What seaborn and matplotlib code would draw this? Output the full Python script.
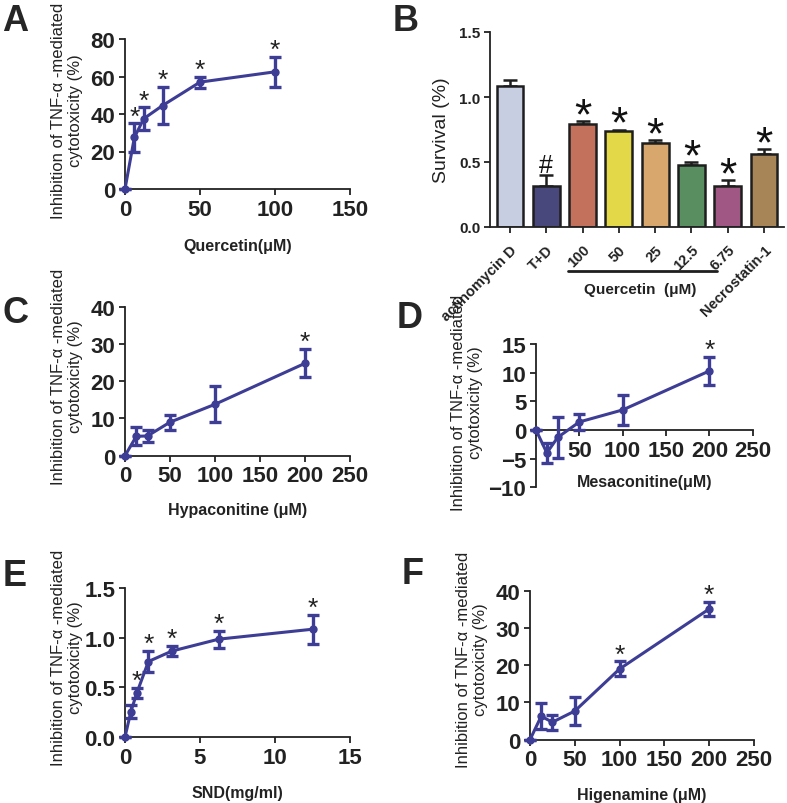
import numpy as np
import pandas as pd
import matplotlib
matplotlib.use("Agg")
import matplotlib.pyplot as plt
import seaborn as sns

sns.set_style("ticks")
plt.rcParams['font.family'] = ['Liberation Sans', 'DejaVu Sans']

# panel A - quercetin
a_x = [0, 6.25, 12.5, 25, 50, 100]
a_y = [0, 27.5, 37.5, 44.5, 57, 62.5]
a_err = [0, 7.5, 6, 10, 3, 8]
a_star = [6.25, 12.5, 25, 50, 100]

# panel B - survival bars
b_labels = ["actinomycin D", "T+D", "100", "50", "25", "12.5", "6.75", "Necrostatin-1"]
b_vals = [1.085, 0.315, 0.795, 0.735, 0.645, 0.474, 0.315, 0.558]
b_err = [0.045, 0.085, 0.02, 0.015, 0.025, 0.025, 0.045, 0.04]
b_marks = ["", "#", "*", "*", "*", "*", "*", "*"]
b_colors = ["#c3cce6", "#3f3f86", "#d4654b", "#fdf02e", "#e9a95b", "#4f975a", "#ad4b87", "#b5874a"]

# panel C - hypaconitine
c_x = [0, 12.5, 25, 50, 100, 200]
c_y = [0, 5.2, 5.3, 9, 13.8, 24.8]
c_err = [0, 2.4, 1.5, 2, 4.8, 3.8]
c_star = [200]

# panel D - mesaconitine
d_x = [0, 12.5, 25, 50, 100, 200]
d_y = [0, -4, -1.3, 1.4, 3.5, 10.3]
d_err = [0, 1.8, 3.6, 1.4, 2.6, 2.5]
d_star = [200]

# panel E - SND
e_x = [0, 0.39, 0.78, 1.56, 3.125, 6.25, 12.5]
e_y = [0, 0.255, 0.44, 0.76, 0.865, 0.985, 1.085]
e_err = [0, 0.065, 0.05, 0.11, 0.05, 0.085, 0.145]
e_star = [0.78, 1.56, 3.125, 6.25, 12.5]

# panel F - higenamine
f_x = [0, 12.5, 25, 50, 100, 200]
f_y = [0, 6.3, 4.7, 7.7, 19, 35.1]
f_err = [0, 3.5, 2, 3.7, 2, 1.8]
f_star = [100, 200]

W, H = 787, 804
LINE = "#3d3d96"
YLAB = "Inhibition of TNF-\u03b1 -mediated\ncytotoxicity (%)"
TICK = 16

fig = plt.figure(figsize=(W / 100, H / 100), dpi=100)


def box(x0, y0, x1, y1):
    # pixel box (top-left origin) -> figure fraction
    return [x0 / W, 1 - y1 / H, (x1 - x0) / W, (y1 - y0) / H]


def style(ax, size=TICK, pad=3):
    sns.despine(ax=ax)
    for s in ["left", "bottom"]:
        ax.spines[s].set_linewidth(1.3)
        ax.spines[s].set_color("#222222")
    ax.tick_params(length=4, width=1.3, labelsize=size, colors="#222222", pad=pad)
    for t in ax.get_xticklabels() + ax.get_yticklabels():
        t.set_fontweight("bold")
        t.set_fontsize(size)


def curve(ax, x, y, err, stars, xlim, ylim, xticks, yticks, xlabel, ylab_xy, xlab_y):
    df = pd.DataFrame({"x": x, "y": y})
    sns.lineplot(data=df, x="x", y="y", ax=ax, color=LINE, linewidth=2.2,
                 marker="o", markersize=6, markeredgewidth=0, clip_on=False, zorder=4)
    ax.errorbar(x, y, yerr=err, fmt="none", ecolor=LINE, elinewidth=2.4,
                capsize=4, capthick=2.4, clip_on=False, zorder=3)
    for sx in stars:
        i = x.index(sx)
        ax.annotate("*", xy=(sx, y[i] + err[i]), xytext=(0, 0), textcoords="offset points",
                    ha="center", va="baseline", fontsize=19, color="#222222")
    ax.set_xlim(*xlim)
    ax.set_ylim(*ylim)
    ax.set_xticks(xticks)
    ax.set_yticks(yticks)
    ax.set_ylabel("")
    ax.set_xlabel(xlabel, fontsize=11.5, fontweight="bold", color="#222222")
    ax.xaxis.label.set_va("center")
    ax.xaxis.set_label_coords(0.5, xlab_y)
    fig.text(ylab_xy[0] / W, 1 - ylab_xy[1] / H, YLAB, rotation=90, ha="center", va="center",
             multialignment="center", fontsize=12, color="#222222", linespacing=1.2)


axA = fig.add_axes(box(125, 40, 350, 190))
curve(axA, a_x, a_y, a_err, a_star, (0, 150), (0, 80), [0, 50, 100, 150], [0, 20, 40, 60, 80],
      "Quercetin(\u03bcM)", (67, 111), -0.38)
style(axA)

axC = fig.add_axes(box(125, 307.7, 350, 456.7))
curve(axC, c_x, c_y, c_err, c_star, (0, 250), (0, 40), [0, 50, 100, 150, 200, 250], [0, 10, 20, 30, 40],
      "Hypaconitine (\u03bcM)", (67, 377), -0.36)
style(axC)

axD = fig.add_axes(box(536, 345, 752.7, 488.3))
curve(axD, d_x, d_y, d_err, d_star, (0, 250), (-10, 15), [0, 50, 100, 150, 200, 250], [-10, -5, 0, 5, 10, 15],
      "Mesaconitine(\u03bcM)", (467, 403), 0.04)
axD.spines["bottom"].set_position(("data", 0))
axD.set_xticklabels(["", "50", "100", "150", "200", "250"])
style(axD)

axE = fig.add_axes(box(125, 589, 350, 738))
curve(axE, e_x, e_y, e_err, e_star, (0, 15), (0, 1.5), [0, 5, 10, 15], [0, 0.5, 1.0, 1.5],
      "SND(mg/ml)", (67, 658), -0.37)
axE.set_yticklabels(["0.0", "0.5", "1.0", "1.5"])
style(axE)

axF = fig.add_axes(box(530, 591.7, 754, 740.7))
curve(axF, f_x, f_y, f_err, f_star, (0, 250), (0, 40), [0, 50, 100, 150, 200, 250], [0, 10, 20, 30, 40],
      "Higenamine (\u03bcM)", (472, 660), -0.365)
style(axF)

# panel B bars
axB = fig.add_axes(box(490, 33, 784, 228))
bdf = pd.DataFrame({"group": b_labels, "val": b_vals})
sns.barplot(data=bdf, x="group", y="val", hue="group", palette=b_colors, legend=False,
            width=0.74, edgecolor="#1e1e1e", linewidth=1.8, ax=axB, zorder=2)
pos = np.arange(len(b_labels))
axB.errorbar(pos, b_vals, yerr=[np.zeros(len(b_err)), b_err], fmt="none", ecolor="#1e1e1e",
             elinewidth=1.8, capsize=5, capthick=1.8, zorder=1)
for i, m in enumerate(b_marks):
    if m == "*":
        axB.annotate(m, xy=(pos[i], b_vals[i] + b_err[i]), xytext=(0, -5), textcoords="offset points",
                     ha="center", va="baseline", fontsize=32, color="#111111")
    elif m == "#":
        axB.annotate(m, xy=(pos[i], b_vals[i] + b_err[i]), xytext=(0, 2), textcoords="offset points",
                     ha="center", va="baseline", fontsize=18, color="#111111")
axB.set_xlim(-0.55, 7.55)
axB.set_ylim(0, 1.5)
axB.set_yticks([0, 0.5, 1.0, 1.5])
axB.set_yticklabels(["0.0", "0.5", "1.0", "1.5"])
axB.set_xticks(pos)
axB.set_xticklabels(b_labels, rotation=45, ha="right", rotation_mode="anchor")
axB.set_xlabel("")
axB.set_ylabel("Survival (%)", fontsize=14, color="#222222")
axB.yaxis.set_label_coords(-0.135, 0.5)
style(axB, size=11, pad=3)
axB.tick_params(axis="x", labelsize=10.5, pad=7)
for t in axB.get_xticklabels():
    t.set_fontsize(10.5)
trans = axB.get_xaxis_transform()
axB.plot([1.6, 5.7], [-0.226, -0.226], color="#1e1e1e", linewidth=2, transform=trans, clip_on=False)
axB.text(3.6, -0.32, "Quercetin  (\u03bcM)", transform=trans, ha="center", va="center",
         fontsize=11, fontweight="bold", color="#222222")

# panel letters
for lab, x, y in [("A", 2, 4), ("B", 393, 4), ("C", 3, 296), ("D", 397, 301), ("E", 3, 559), ("F", 402, 557)]:
    fig.text(x / W, 1 - y / H, lab, fontsize=26, fontweight="bold", ha="left", va="top")

fig.savefig("out.png", dpi=100)
